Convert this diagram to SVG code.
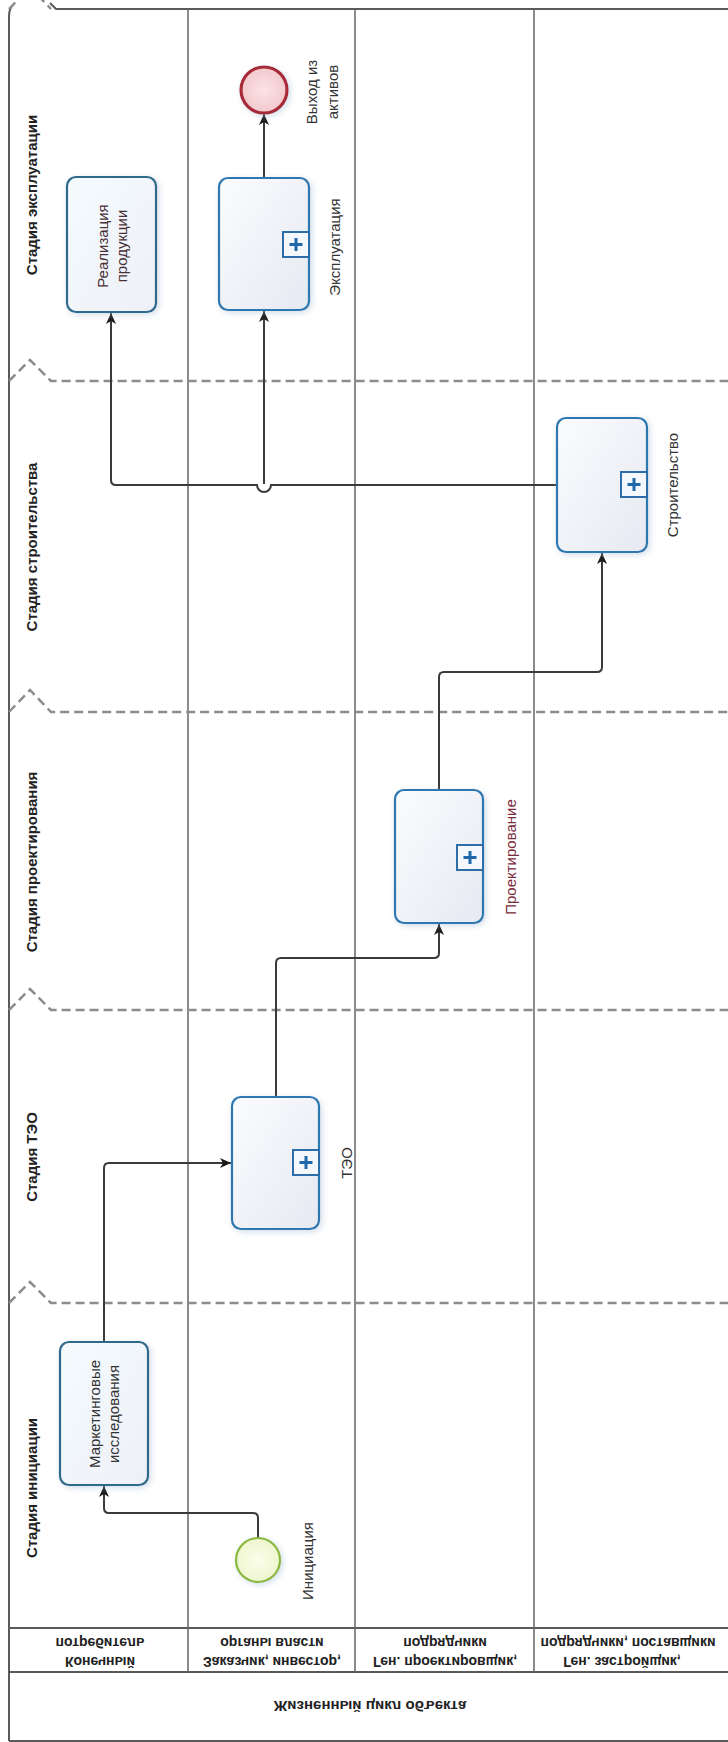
<svg xmlns="http://www.w3.org/2000/svg" width="728" height="1742" viewBox="0 0 728 1742">
<style>
.frame{stroke:#5a5a5a;stroke-width:2;fill:none}
.lane{stroke:#666;stroke-width:1.5;fill:none}
.phase{stroke:#8c8c8c;stroke-width:2.5;stroke-dasharray:9 5;fill:none}
.task{fill:url(#tg);stroke:#2d78b2;stroke-width:2.2}
.task2{fill:url(#tg2);stroke:#2f6a8c;stroke-width:2.2}
.mk{fill:#f4f7fb;stroke:#2d6ea8;stroke-width:2}
.plus{stroke:#1f68ab;stroke-width:3;fill:none}
.flow{stroke:#3a3a3a;stroke-width:2;fill:none}
.t{font-family:"Liberation Sans",Arial,sans-serif;font-size:15px;fill:#333;text-anchor:middle;dominant-baseline:central}
.ph{font-family:"Liberation Sans",Arial,sans-serif;font-size:15px;font-weight:bold;fill:#222;text-anchor:middle;dominant-baseline:central}
.ln{font-family:"Liberation Sans",Arial,sans-serif;font-size:14px;font-weight:bold;fill:#222;text-anchor:middle;dominant-baseline:central}
</style>
<defs>
<linearGradient id="tg" x1="0" y1="0" x2="1" y2="1">
<stop offset="0" stop-color="#fbfcfe"/><stop offset="1" stop-color="#e6e9f2"/>
</linearGradient>
<linearGradient id="tg2" x1="0" y1="0" x2="1" y2="1">
<stop offset="0" stop-color="#f4fbfd"/><stop offset="1" stop-color="#eef0f7"/>
</linearGradient>
<radialGradient id="eg"><stop offset="0" stop-color="#fbe3e5"/><stop offset="1" stop-color="#f2c9cd"/></radialGradient>
<radialGradient id="sg"><stop offset="0" stop-color="#fbfdea"/><stop offset="1" stop-color="#eef6cf"/></radialGradient>
<filter id="sh" x="-20%" y="-20%" width="140%" height="140%">
<feDropShadow dx="2" dy="2" stdDeviation="3" flood-color="#9fb6d0" flood-opacity="0.45"/>
</filter>
<marker id="ar" markerUnits="userSpaceOnUse" markerWidth="12" markerHeight="10" refX="11" refY="5" orient="auto">
<path d="M0,0 L11,5 L0,10 L3,5 z" fill="#1a1a1a"/>
</marker>
</defs>
<rect width="728" height="1742" fill="#fff"/>

<g id="pool">
<path class="frame" d="M9,1741 V16 Q9,8 14,4"/>
<path class="frame" d="M50,3 L56,9 H728"/>
<path class="frame" d="M9,1741 H728"/>
<path class="frame" d="M9,1628 H728 M9,1672 H728"/>
<path class="lane" d="M188,9 V1672 M355,9 V1672 M534,9 V1672"/>
<g id="pool-label"><text class="ln" style="font-size:15px" transform="matrix(1 0 0 -1 370 1706)">Жизненный цикл объекта</text></g>
</g>

<g id="lanes">
<g id="lane1"><text class="ln" transform="matrix(1 0 0 -1 100 1662)">Конечный</text><text class="ln" transform="matrix(1 0 0 -1 100 1643)">потребитель</text></g>
<g id="lane2"><text class="ln" transform="matrix(1 0 0 -1 272 1662)">Заказчик, инвестор,</text><text class="ln" transform="matrix(1 0 0 -1 272 1643)">органы власти</text></g>
<g id="lane3"><text class="ln" transform="matrix(1 0 0 -1 445 1662)">Ген. проектировщик,</text><text class="ln" transform="matrix(1 0 0 -1 445 1643)">подрядчики</text></g>
<g id="lane4"><text class="ln" transform="matrix(1 0 0 -1 622 1662)">Ген. застройщик,</text><text class="ln" transform="matrix(1 0 0 -1 628 1643)">подрядчики, поставщики</text></g>
</g>

<g id="phases">
<path class="phase" d="M9,9 L30,-13 L51,9"/>
<path class="phase" d="M9,381 L30,360 L51,381 H728"/>
<path class="phase" d="M9,712 L30,690 L51,712 H728"/>
<path class="phase" d="M9,1010 L30,989 L51,1010 H728"/>
<path class="phase" d="M9,1303 L30,1282 L51,1303 H728"/>
<text class="ph" transform="translate(31,195) rotate(-90)">Стадия эксплуатации</text>
<text class="ph" transform="translate(31,547) rotate(-90)">Стадия строительства</text>
<text class="ph" transform="translate(31,862) rotate(-90)">Стадия проектирования</text>
<text class="ph" transform="translate(31,1157) rotate(-90)">Стадия ТЭО</text>
<text class="ph" transform="translate(31,1488) rotate(-90)">Стадия инициации</text>
</g>

<g id="connectors">
<path class="flow" marker-end="url(#ar)" d="M258,1538 V1518 Q258,1513 253,1513 H109 Q104,1513 104,1508 V1486"/>
<path class="flow" marker-end="url(#ar)" d="M104,1342 V1168 Q104,1163 109,1163 H231"/>
<path class="flow" marker-end="url(#ar)" d="M276,1097 V963 Q276,958 281,958 H434 Q439,958 439,953 V924"/>
<path class="flow" marker-end="url(#ar)" d="M439,790 V677 Q439,672 444,672 H597 Q602,672 602,667 V553"/>
<path class="flow" marker-end="url(#ar)" d="M557,485 H271 A7,7 0 0 1 257,485 H116 Q111,485 111,480 V313"/>
<path class="flow" marker-end="url(#ar)" d="M264,484 V311"/>
<path class="flow" marker-end="url(#ar)" d="M264,178 V114"/>
</g>

<g id="n-start">
<circle cx="258" cy="1560" r="22" fill="url(#sg)" stroke="#8ab83c" stroke-width="2.2" filter="url(#sh)"/>
<text class="t" transform="translate(307,1561) rotate(-90)">Инициация</text>
</g>

<g id="n-marketing">
<rect class="task2" x="60" y="1342" width="88" height="143" rx="9" filter="url(#sh)"/>
<text class="t" transform="translate(94.5,1414) rotate(-90)">Маркетинговые</text>
<text class="t" transform="translate(113.5,1414) rotate(-90)">исследования</text>
</g>

<g id="n-teo">
<rect class="task" x="232" y="1097" width="87" height="132" rx="9" filter="url(#sh)"/>
<rect class="mk" x="293" y="1150" width="26" height="25"/>
<path class="plus" d="M306,1156 V1169 M299.5,1162.5 H312.5"/>
<text class="t" transform="translate(346,1163) rotate(-90)">ТЭО</text>
</g>

<g id="n-design">
<rect class="task" x="395" y="790" width="88" height="133" rx="9" filter="url(#sh)"/>
<rect class="mk" x="457" y="845" width="26" height="25"/>
<path class="plus" d="M470,851 V864 M463.5,857.5 H476.5"/>
<text class="t" style="fill:#7a2a3a" transform="translate(510,857) rotate(-90)">Проектирование</text>
</g>

<g id="n-build">
<rect class="task" x="557" y="418" width="90" height="134" rx="9" filter="url(#sh)"/>
<rect class="mk" x="621" y="472" width="26" height="25"/>
<path class="plus" d="M634,478 V491 M627.5,484.5 H640.5"/>
<text class="t" transform="translate(672,485) rotate(-90)">Строительство</text>
</g>

<g id="n-operation">
<rect class="task" x="219" y="178" width="90" height="132" rx="9" filter="url(#sh)"/>
<rect class="mk" x="283" y="232" width="26" height="25"/>
<path class="plus" d="M296,238 V251 M289.5,244.5 H302.5"/>
<text class="t" transform="translate(334,247) rotate(-90)">Эксплуатация</text>
</g>

<g id="n-sales">
<rect class="task2" x="67" y="177" width="89" height="135" rx="9" filter="url(#sh)"/>
<text class="t" style="fill:#4a3036" transform="translate(102,246) rotate(-90)">Реализация</text>
<text class="t" style="fill:#4a3036" transform="translate(121,246) rotate(-90)">продукции</text>
</g>

<g id="n-end">
<circle cx="264" cy="90" r="23" fill="url(#eg)" stroke="#a82a38" stroke-width="3.2" filter="url(#sh)"/>
<text class="t" transform="translate(311,92) rotate(-90)">Выход из</text>
<text class="t" transform="translate(332,92) rotate(-90)">активов</text>
</g>
</svg>
